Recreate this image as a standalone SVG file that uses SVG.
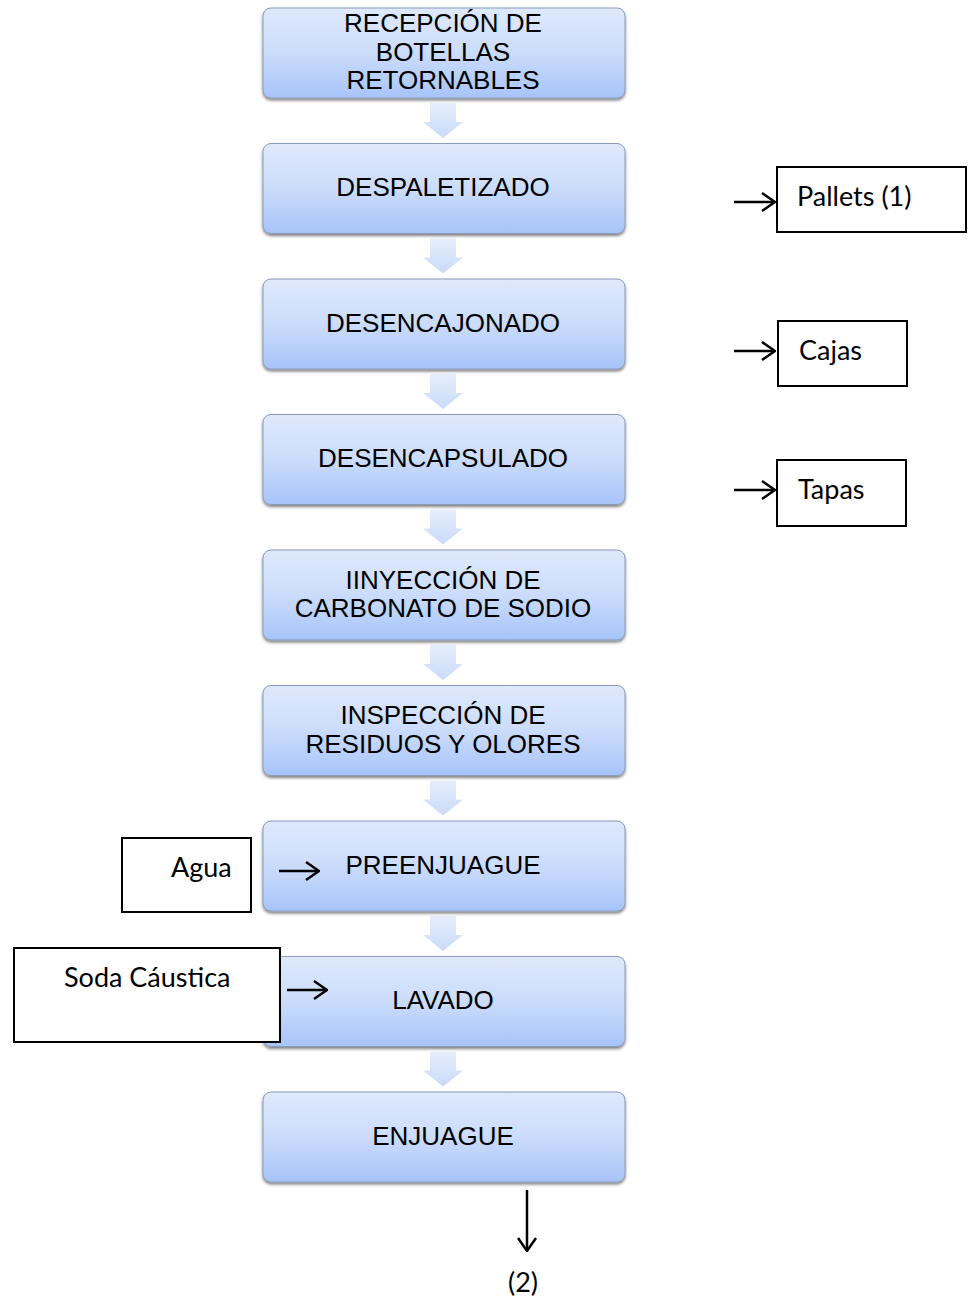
<svg xmlns="http://www.w3.org/2000/svg" width="968" height="1304" viewBox="0 0 968 1304">
<defs>
<linearGradient id="g" x1="0" y1="0" x2="0" y2="1">
<stop offset="0" stop-color="#dfe9fb"/>
<stop offset="0.5" stop-color="#cbdcfb"/>
<stop offset="1" stop-color="#a7c4f9"/>
</linearGradient>
<linearGradient id="ga" x1="0" y1="0" x2="0" y2="1">
<stop offset="0" stop-color="#e6eefc"/>
<stop offset="1" stop-color="#c9daf9"/>
</linearGradient>
<filter id="sh" x="-5%" y="-10%" width="110%" height="130%">
<feGaussianBlur in="SourceAlpha" stdDeviation="1.5"/>
<feOffset dx="0" dy="2" result="b"/>
<feComponentTransfer><feFuncA type="linear" slope="0.5"/></feComponentTransfer>
<feMerge><feMergeNode/><feMergeNode in="SourceGraphic"/></feMerge>
</filter>
<marker id="ah" viewBox="0 0 16 22" refX="15" refY="11" markerWidth="16" markerHeight="22" markerUnits="userSpaceOnUse" orient="auto">
<path d="M2,2 L15,11 L2,20" fill="none" stroke="#000" stroke-width="2.5"/>
</marker>
<path id="blk" d="M-13,0 H13 V19 H20 L0,35 L-20,19 H-13 Z"/>
</defs>
<style>
.box{fill:url(#g);stroke:#8a9bb8;stroke-width:1;filter:url(#sh)}
.bt{font-family:"Liberation Sans",Arial,sans-serif;font-size:26px;fill:#000;text-anchor:middle}
.sb{fill:#fff;stroke:#000;stroke-width:2}
.st{font-family:Lato,"Open Sans","Noto Sans",sans-serif;font-size:27px;fill:#000}
.ln{stroke:#000;stroke-width:2.5;fill:none;marker-end:url(#ah)}
.ba{fill:url(#ga)}
</style>
<g id="n1"><rect class="box" x="263" y="8" width="362" height="90" rx="8"/>
<text class="bt" x="443" y="32">RECEPCIÓN DE</text><text class="bt" x="443" y="60.5">BOTELLAS</text><text class="bt" x="443" y="88.5">RETORNABLES</text></g>
<g id="n2"><rect class="box" x="263" y="143.5" width="362" height="90" rx="8"/>
<text class="bt" x="443" y="196">DESPALETIZADO</text></g>
<g id="n3"><rect class="box" x="263" y="279" width="362" height="90" rx="8"/>
<text class="bt" x="443" y="332">DESENCAJONADO</text></g>
<g id="n4"><rect class="box" x="263" y="414.5" width="362" height="90" rx="8"/>
<text class="bt" x="443" y="467">DESENCAPSULADO</text></g>
<g id="n5"><rect class="box" x="263" y="550" width="362" height="90" rx="8"/>
<text class="bt" x="443" y="588.5">IINYECCIÓN DE</text><text class="bt" x="443" y="617">CARBONATO DE SODIO</text></g>
<g id="n6"><rect class="box" x="263" y="685.5" width="362" height="90" rx="8"/>
<text class="bt" x="443" y="724">INSPECCIÓN DE</text><text class="bt" x="443" y="752.5">RESIDUOS Y OLORES</text></g>
<g id="n7"><rect class="box" x="263" y="821" width="362" height="90" rx="8"/>
<text class="bt" x="443" y="874">PREENJUAGUE</text></g>
<g id="n8"><rect class="box" x="263" y="956.5" width="362" height="90" rx="8"/>
<text class="bt" x="443" y="1009">LAVADO</text></g>
<g id="n9"><rect class="box" x="263" y="1092" width="362" height="90" rx="8"/>
<text class="bt" x="443" y="1145">ENJUAGUE</text></g>
<g id="pallets"><rect class="sb" x="777" y="167" width="189" height="65"/><text class="st" x="797" y="206">Pallets (1)</text></g>
<g id="cajas"><rect class="sb" x="778" y="321" width="129" height="65"/><text class="st" x="799" y="360">Cajas</text></g>
<g id="tapas"><rect class="sb" x="777" y="460" width="129" height="66"/><text class="st" x="798" y="499">Tapas</text></g>
<g id="agua"><rect class="sb" x="122" y="838" width="129" height="74"/><text class="st" x="171" y="877">Agua</text></g>
<g id="soda"><rect class="sb" x="14" y="948" width="266" height="94"/><text class="st" x="64" y="987">Soda Cáustica</text></g>
<g id="out2"><text class="st" x="523" y="1292" text-anchor="middle">(2)</text></g>
<g id="connectors">
<use href="#blk" class="ba" x="443" y="103"/>
<use href="#blk" class="ba" x="443" y="238.5"/>
<use href="#blk" class="ba" x="443" y="374"/>
<use href="#blk" class="ba" x="443" y="509.5"/>
<use href="#blk" class="ba" x="443" y="645"/>
<use href="#blk" class="ba" x="443" y="780.5"/>
<use href="#blk" class="ba" x="443" y="916"/>
<use href="#blk" class="ba" x="443" y="1051.5"/>
<line class="ln" x1="734" y1="202" x2="775" y2="202"/>
<line class="ln" x1="734" y1="351" x2="775" y2="351"/>
<line class="ln" x1="734" y1="490" x2="775" y2="490"/>
<line class="ln" x1="279" y1="871" x2="319" y2="871"/>
<line class="ln" x1="287" y1="990" x2="327" y2="990"/>
<line class="ln" x1="527" y1="1190" x2="527" y2="1251"/>
</g>
</svg>
